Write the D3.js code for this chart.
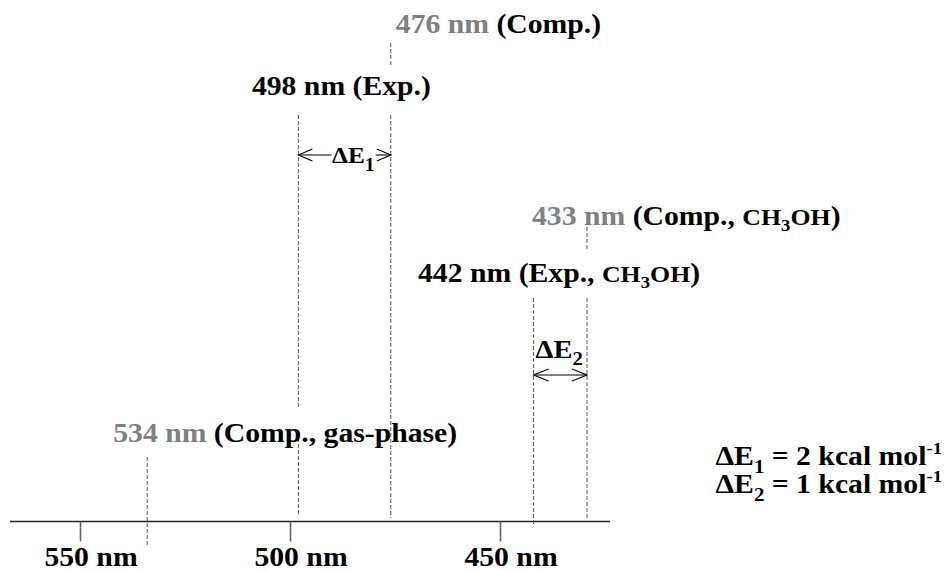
<!DOCTYPE html>
<html>
<head>
<meta charset="utf-8">
<script src="https://cdn.jsdelivr.net/npm/d3@7/dist/d3.min.js"></script>
<style>
  html, body { margin: 0; padding: 0; background: #fff; }
  svg { display: block; }
</style>
</head>
<body>
<svg id="chart" width="947" height="571"></svg>
<script>
// Absorption maxima (nm) and their sources
const bandWavelengths = [534, 498, 476, 442, 433];
const bandKinds = ["Comp.", "Exp.", "Comp.", "Exp.", "Comp."];
const bandMedia = ["gas-phase", null, null, "CH3OH", "CH3OH"];

// Axis ticks
const tickValues = [550, 500, 450];
const tickLabels = ["550 nm", "500 nm", "450 nm"];

// Energy gaps between experiment and computation
const gapNames = ["1", "2"];
const gapFrom = [498, 442];
const gapTo = [476, 433];
const gapValues = [2, 1];

const svg = d3.select("#chart");
const FS = 27, SX = 1.1;
const GRAY = "#808080";
const FONT = "Liberation Serif, Tinos, Times New Roman, Nimbus Roman, DejaVu Serif, serif";

// Wavelength axis runs right-to-left (shorter wavelength to the right)
const x = d3.scaleLinear().domain([550, 442, 433]).range([80, 533.6, 587]);
const axisY = 521.5;

// Rich text helper: segments of {t, fill, size, dy}
function richText(g, px, py, segs, anchor) {
  const t = g.append("text")
    .attr("transform", `translate(${px},${py}) scale(${SX},1)`)
    .attr("text-anchor", anchor || "start")
    .attr("font-family", FONT)
    .attr("font-weight", "bold")
    .attr("font-size", FS);
  let shift = 0;
  segs.forEach(s => {
    const dy = (s.dy || 0) - shift;
    shift = s.dy || 0;
    t.append("tspan")
      .attr("dy", dy)
      .attr("fill", s.fill || "#000")
      .attr("font-size", s.size || FS)
      .text(s.t);
  });
  return t;
}

// Baseline and ticks
svg.append("line")
  .attr("x1", 10).attr("x2", 610)
  .attr("y1", axisY).attr("y2", axisY)
  .attr("stroke", "#222").attr("stroke-width", 1.5);

const axis = d3.axisBottom(x).tickValues(tickValues).tickSize(20).tickSizeOuter(0).tickFormat("");
const axG = svg.append("g").attr("transform", `translate(0,${axisY})`).call(axis);
axG.select(".domain").remove();
axG.selectAll(".tick line").attr("stroke", "#666").attr("stroke-width", 1.6);

tickValues.forEach((v, i) => {
  richText(svg, x(v) + 11, 566, [{ t: tickLabels[i] }], "middle");
});

// Dashed marker lines (vertical extents per band)
const lineSegments = {
  534: [[457, 547]],
  498: [[115, 407], [438, 515]],
  476: [[43, 67], [115, 518]],
  442: [[298, 525]],
  433: [[227, 250], [298, 518]]
};
const dashG = svg.append("g")
  .attr("stroke", "#555").attr("stroke-width", 1)
  .attr("stroke-dasharray", "4,2");
bandWavelengths.forEach(w => {
  lineSegments[w].forEach(([y1, y2]) => {
    dashG.append("line")
      .attr("x1", x(w)).attr("x2", x(w))
      .attr("y1", y1).attr("y2", y2);
  });
});

// Band labels
const labelPlace = {
  534: { dx: -34, y: 442 },
  498: { dx: -46.5, y: 95 },
  476: { dx: 5, y: 33 },
  442: { dx: -115.6, y: 282 },
  433: { dx: -55, y: 225 }
};
bandWavelengths.forEach((w, i) => {
  const kind = bandKinds[i];
  const media = bandMedia[i];
  const segs = [{ t: `${w} nm`, fill: kind === "Comp." ? GRAY : "#000" }];
  if (!media) {
    segs.push({ t: ` (${kind})` });
  } else if (media === "CH3OH") {
    segs.push({ t: ` (${kind}, ` });
    segs.push({ t: "CH", size: 23.5 });
    segs.push({ t: "3", size: 17, dy: 6 });
    segs.push({ t: "OH", size: 23.5 });
    segs.push({ t: ")" });
  } else {
    segs.push({ t: ` (${kind}, ${media})` });
  }
  const p = labelPlace[w];
  richText(svg, x(w) + p.dx, p.y, segs);
});

// Double-headed arrows marking the energy gaps
function chevron(g, tipX, y, dir, len, half) {
  g.append("path")
    .attr("d", `M${tipX + dir * len},${y - half} L${tipX},${y} L${tipX + dir * len},${y + half}`)
    .attr("fill", "none").attr("stroke", "#000").attr("stroke-width", 1.1);
}
const arrG = svg.append("g");

// ΔE1: arrow interrupted by its label
{
  const x1 = x(gapFrom[0]), x2 = x(gapTo[0]), y = 155;
  const mid = (x1 + x2) / 2;
  arrG.append("line").attr("x1", x1).attr("x2", mid - 13).attr("y1", y).attr("y2", y)
    .attr("stroke", "#000").attr("stroke-width", 1.1);
  arrG.append("line").attr("x1", mid + 31).attr("x2", x2).attr("y1", y).attr("y2", y)
    .attr("stroke", "#000").attr("stroke-width", 1.1);
  chevron(arrG, x1, y, 1, 14, 6);
  chevron(arrG, x2, y, -1, 14, 6);
  richText(svg, mid - 12.5, 163, [
    { t: "ΔE", size: 23 },
    { t: gapNames[0], size: 18, dy: 8 }
  ]);
}

// ΔE2: label above a full arrow
{
  const x1 = x(gapFrom[1]), x2 = x(gapTo[1]), y = 375;
  arrG.append("line").attr("x1", x1).attr("x2", x2).attr("y1", y).attr("y2", y)
    .attr("stroke", "#000").attr("stroke-width", 1.1);
  chevron(arrG, x1, y, 1, 15, 6);
  chevron(arrG, x2, y, -1, 15, 6);
  richText(svg, x1 + 2, 358, [
    { t: "ΔE", size: 26 },
    { t: gapNames[1], size: 19, dy: 7 }
  ]);
}

// Gap values
gapValues.forEach((v, i) => {
  richText(svg, 942, 465 + i * 28, [
    { t: "ΔE" },
    { t: gapNames[i], size: 19, dy: 8 },
    { t: ` = ${v} kcal mol` },
    { t: "-1", size: 17, dy: -11 }
  ], "end");
});
</script>
</body>
</html>
